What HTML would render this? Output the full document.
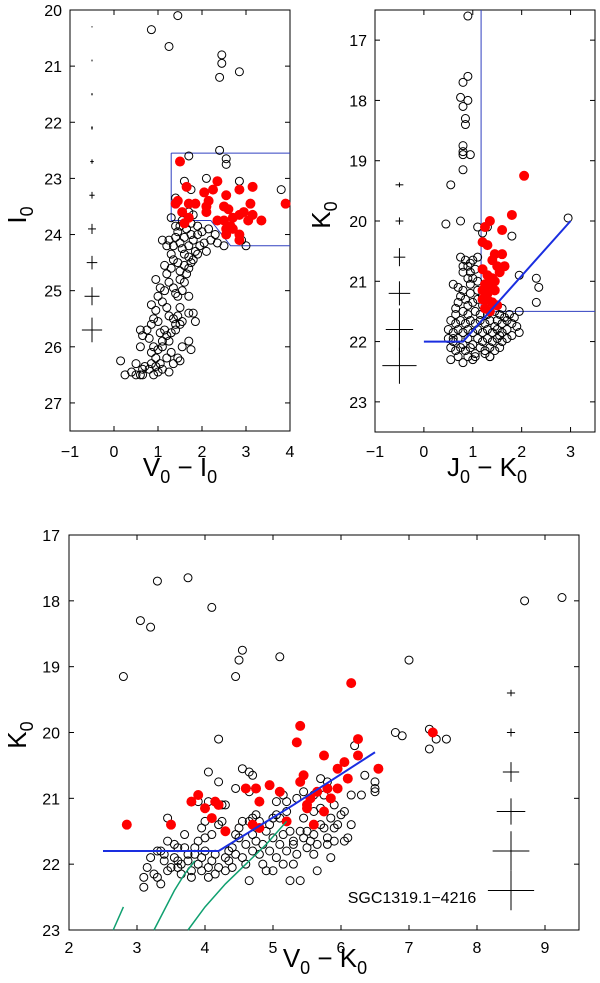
<!DOCTYPE html>
<html><head><meta charset="utf-8"><style>
html,body{margin:0;padding:0;background:#fff;}
svg{display:block;font-family:"Liberation Sans",sans-serif;}
</style></head><body>
<svg id="fig" width="600" height="983" viewBox="0 0 600 983" xmlns="http://www.w3.org/2000/svg"></svg>
<script>
// ---------- Panel 1 data (V0-I0 vs I0) ----------
const p1BlackX=[1.45,0.85,1.25,2.45,2.45,2.85,2.4,2.4,2.55,2.55,1.7,1.6,2.1,2.85,3.8,1.75,1.4,1.7,1.8,1.3,2.9,3.0,2.5,
0.15,0.25,0.4,0.5,0.5,0.6,0.65,0.7,0.65,0.8,0.85,0.9,0.95,1.0,1.05,1.1,1.25,1.2,0.6,0.85,0.9,1.0,1.1,1.3,1.45,1.5,1.35,1.7,1.75,1.55,0.6,0.75,0.85,0.9,1.0,1.05,1.15,1.2,1.3,1.4,1.25,1.5,0.65,0.8,0.85,0.95,1.0,1.1,1.2,1.25,1.35,1.45,1.5,1.55,1.7,1.8,1.85,0.95,1.05,1.15,1.25,1.35,1.4,1.45,1.55,1.6,1.7,1.15,1.2,1.3,1.35,1.45,1.5,1.6,1.7,1.75,1.8,1.2,1.25,1.35,1.4,1.45,1.5,1.55,1.6,1.65,1.7,1.75,1.8,1.85,1.9,1.95,2.0,2.05,2.1,2.2,2.3,2.35,2.15,1.4,1.55,1.75,1.9,1.6,1.65,1.3,1.5,1.1,1.7,1.9,1.5,1.4,1.1,0.95];
const p1BlackY=[20.1,20.35,20.65,20.8,20.95,21.1,21.2,22.5,22.65,22.75,22.6,23.05,23.0,23.05,23.2,23.2,23.35,23.6,23.65,23.7,24.1,24.2,24.2,
26.25,26.5,26.45,26.3,26.5,26.5,26.4,26.35,26.5,26.4,26.3,26.5,26.2,26.45,26.3,26.4,26.45,26.2,26.0,26.1,26.0,26.05,26.0,26.1,26.2,26.25,26.3,25.9,26.05,26.0,25.7,25.7,25.6,25.5,25.55,25.75,25.7,25.8,25.75,25.7,25.9,25.6,25.8,25.85,25.25,25.35,25.1,25.2,25.3,25.45,25.5,25.45,25.3,25.55,25.4,25.4,25.55,24.8,24.95,25.0,24.85,24.95,25.05,25.1,25.0,24.85,25.1,24.55,24.7,24.6,24.45,24.5,24.65,24.55,24.6,24.5,24.45,24.2,24.1,24.2,24.05,23.95,24.15,24.25,24.05,23.9,24.2,24.0,24.1,24.3,24.0,24.2,23.95,24.15,24.3,24.1,24.0,24.15,23.9,23.85,23.75,23.8,23.85,24.35,24.7,24.35,23.85,24.1,24.4,24.35,24.8,25.6,25.9,26.35];
const p1RedX=[1.5,1.65,2.35,2.25,2.05,2.15,2.55,2.85,3.15,1.4,1.45,1.7,1.85,2.1,2.5,2.6,3.1,3.9,1.55,2.1,2.35,2.5,2.7,2.85,2.95,3.05,3.15,3.35,1.6,2.55,2.7,2.55,2.85,2.85,1.7,2.65];
const p1RedY=[22.7,23.15,23.05,23.2,23.25,23.4,23.3,23.2,23.15,23.45,23.4,23.45,23.45,23.5,23.5,23.55,23.45,23.45,23.6,23.6,23.75,23.75,23.7,23.65,23.6,23.75,23.65,23.75,23.8,23.9,23.9,24.0,24.0,24.1,23.7,23.85];
const p1ErrY=[20.3,20.9,21.5,22.1,22.7,23.3,23.9,24.5,25.1,25.7];
const p1ErrDX=[0.005,0.01,0.015,0.02,0.04,0.06,0.09,0.12,0.17,0.23];
const p1ErrDY=[0.01,0.015,0.02,0.03,0.04,0.06,0.09,0.12,0.16,0.22];
const p1TicksX=[-1,0,1,2,3,4];
const p1TicksY=[20,21,22,23,24,25,26,27];

// ---------- Panel 2 data (J0-K0 vs K0) ----------
const p2BlackX=[0.9,0.9,0.8,0.75,0.9,0.8,0.85,0.85,0.8,0.8,0.8,0.95,0.8,0.55,0.45,0.75,1.1,1.3,1.8,1.2,2.95,1.1,1.95,2.3,2.35,2.3,1.95,1.9,1.95,0.6,0.7,
0.75,0.85,0.9,0.95,1.0,1.05,0.8,0.8,0.9,1.0,1.1,0.95,0.7,0.75,0.85,0.9,1.0,1.1,1.2,0.65,0.8,0.9,1.05,1.15,1.3,1.45,1.55,1.65,0.55,0.65,0.75,0.85,0.95,1.05,1.15,1.25,1.35,1.5,1.6,1.7,1.8,0.5,0.6,0.7,0.8,0.9,1.0,1.1,1.2,1.3,1.4,1.5,1.6,1.7,1.8,0.5,0.6,0.7,0.8,0.9,1.0,1.1,1.2,1.3,1.4,1.5,1.6,1.7,0.55,0.65,0.75,0.85,0.95,1.05,1.15,1.25,1.35,1.45,1.55,1.35,1.05,0.9,0.7,0.55,0.8,1.0,1.35,1.2,1.1,0.95,0.8,1.6,1.75,1.85,1.45,1.55,1.25,0.65,0.6,0.95];
const p2BlackY=[16.6,17.6,17.7,17.95,18.0,18.1,18.3,18.4,18.75,18.85,18.9,18.9,19.15,19.4,20.05,20.0,20.1,20.1,20.25,20.2,19.95,20.6,20.9,20.95,21.1,21.35,21.5,21.75,21.85,21.05,21.1,
20.6,20.65,20.75,20.7,20.65,20.8,20.75,20.85,20.95,20.95,21.0,21.05,21.35,21.25,21.3,21.4,21.35,21.3,21.4,21.45,21.5,21.55,21.5,21.55,21.55,21.5,21.55,21.6,21.65,21.7,21.65,21.7,21.65,21.7,21.65,21.7,21.65,21.65,21.7,21.65,21.7,21.8,21.85,21.8,21.85,21.8,21.85,21.8,21.85,21.8,21.85,21.8,21.85,21.8,21.9,21.95,22.0,21.95,22.05,21.95,22.05,21.95,22.0,21.95,22.0,21.95,22.0,21.95,22.1,22.15,22.1,22.15,22.1,22.2,22.1,22.15,22.1,22.15,22.1,22.25,22.25,22.25,22.25,22.3,22.35,22.3,22.25,21.25,21.15,21.2,21.15,21.45,21.55,21.6,21.75,21.9,22.2,21.55,21.95,20.85];
const p2RedX=[2.05,1.8,1.35,1.25,1.6,1.2,1.3,1.45,1.6,1.4,1.5,1.65,1.2,1.3,1.55,1.4,1.25,1.35,1.45,1.2,1.3,1.45,1.3,1.4,1.5,1.25,1.35,1.2];
const p2RedY=[19.25,19.9,20.0,20.1,20.15,20.35,20.4,20.55,20.55,20.65,20.75,20.75,20.8,20.9,20.85,20.95,21.05,21.05,21.0,21.15,21.2,21.15,21.3,21.35,21.4,21.45,21.5,21.3];
const p2ErrY=[19.4,20.0,20.6,21.2,21.8,22.4];
const p2ErrDX=[0.08,0.08,0.12,0.22,0.28,0.35];
const p2ErrDY=[0.04,0.06,0.15,0.2,0.35,0.3];
const p2TicksX=[-1,0,1,2,3];
const p2TicksY=[17,18,19,20,21,22,23];

// ---------- Panel 3 data (V0-K0 vs K0) ----------
const p3BlackX=[3.3,3.75,4.1,3.05,3.2,2.8,4.55,4.5,4.45,5.1,7.0,8.7,9.25,4.2,6.8,6.9,7.3,7.4,7.55,7.3,6.2,6.35,6.5,6.5,6.5,6.3,6.15,4.05,4.2,4.55,4.65,4.7,4.45,4.65,3.45,3.9,4.05,4.3,
3.1,3.1,3.15,3.2,3.25,3.3,3.35,3.3,3.35,3.4,3.4,3.45,3.5,3.55,3.55,3.6,3.6,3.65,3.7,3.7,3.75,3.75,3.8,3.8,3.85,3.9,3.9,3.95,3.95,4.0,4.0,4.05,4.05,4.1,4.15,4.2,4.2,4.25,4.3,4.3,4.35,4.35,4.4,4.4,4.45,4.5,4.5,4.55,4.6,4.6,4.65,4.65,4.7,4.7,4.75,4.8,4.8,4.85,4.85,4.9,4.9,4.95,4.95,5.0,5.0,5.05,5.05,5.1,5.1,5.15,5.15,5.2,5.2,5.25,5.25,5.3,5.3,5.35,5.35,5.4,5.4,5.45,5.45,5.5,5.5,5.55,5.55,5.6,5.6,5.65,5.65,5.7,5.7,5.75,5.75,5.8,5.8,5.85,5.85,5.9,5.9,5.95,6.0,6.05,6.05,6.1,6.15,5.7,5.8,5.6,5.45,4.25,4.0,3.95,4.1,3.6,3.45,3.85,4.45,4.55,5.05,4.75,5.15,5.2,5.3,4.3,4.15,3.65,4.7,5.0,5.6,5.9];
const p3BlackY=[17.7,17.65,18.1,18.3,18.4,19.15,18.75,18.9,19.15,18.85,18.9,18.0,17.95,20.1,20.0,20.05,19.95,20.1,20.1,20.25,20.2,20.65,20.75,20.85,20.9,20.95,20.95,20.6,20.75,20.55,20.6,20.65,20.85,20.9,21.3,21.05,21.05,21.1,
22.35,22.2,22.05,21.9,22.15,22.2,22.3,21.8,21.8,21.85,21.95,22.1,22.05,21.7,21.9,21.95,22.05,22.0,21.75,21.55,21.85,21.95,22.1,22.2,21.85,21.65,22.0,21.9,22.1,21.8,21.6,22.05,22.2,21.95,21.85,22.05,21.4,21.35,21.5,21.9,21.8,21.95,21.75,22.05,21.85,21.6,21.45,21.9,21.7,22.0,21.35,22.25,21.3,21.55,21.65,21.35,21.85,21.7,22.0,21.5,22.1,21.8,21.4,21.6,22.1,21.9,21.05,21.3,21.7,22.0,21.55,21.8,21.2,21.5,22.25,21.7,22.0,21.85,21.0,21.5,22.25,21.6,21.3,21.75,21.5,21.0,21.65,21.85,21.55,21.7,22.1,21.4,21.15,20.95,21.45,21.7,21.6,21.3,21.9,21.45,21.1,21.4,21.25,21.65,21.2,21.6,21.4,20.7,20.75,20.95,20.9,21.1,21.35,21.45,21.55,21.75,21.65,21.75,21.55,21.35,21.25,21.25,20.95,21.05,21.65,22.1,22.15,22.15,21.8,21.3,21.2,21.65];
const p3RedX=[6.15,5.4,5.35,6.25,5.75,6.25,6.05,5.95,6.55,5.45,6.1,5.4,4.95,4.6,4.75,5.1,5.8,5.95,5.65,5.85,3.9,3.8,4.15,4.2,4.8,5.5,5.55,5.5,4.0,5.75,4.1,5.2,4.3,4.8,5.6,4.7,2.85,3.5,7.35];
const p3RedY=[19.25,19.9,20.15,20.1,20.35,20.35,20.45,20.55,20.55,20.65,20.7,20.75,20.8,20.85,20.85,20.9,20.85,20.85,20.9,21.0,20.95,21.05,21.05,21.1,21.05,21.1,21.0,21.15,21.15,21.2,21.3,21.35,21.5,21.45,21.4,21.4,21.4,21.4,20.0];
const p3ErrY=[19.4,20.0,20.6,21.2,21.8,22.4];
const p3ErrDX=[0.06,0.06,0.12,0.21,0.27,0.34];
const p3ErrDY=[0.05,0.06,0.15,0.2,0.3,0.3];
const p3TicksX=[2,3,4,5,6,7,8,9];
const p3TicksY=[17,18,19,20,21,22,23];
const p3BlueX=[2.5,4.2,5.3,6.5];
const p3BlueY=[21.8,21.8,21.1,20.3];
const p3Green1X=[2.65,2.8], p3Green1Y=[23.0,22.65];
const p3Green2X=[3.25,3.4,3.55,3.7,3.85], p3Green2Y=[23.0,22.7,22.4,22.15,21.95];
const p3Green3X=[3.75,4.0,4.3,4.6,4.9,5.2], p3Green3Y=[23.0,22.65,22.3,22.0,21.7,21.35];

const NS="http://www.w3.org/2000/svg";
const svg=document.getElementById('fig');
function el(tag,attrs,parent){const e=document.createElementNS(NS,tag);for(const k in attrs)e.setAttribute(k,attrs[k]);(parent||svg).appendChild(e);return e;}

function makePanel(name,L,R,T,B,x0,x1,y0,y1){
  const g=el('g',{});
  
  
  const sx=v=>L+(v-x0)/(x1-x0)*(R-L);
  const sy=v=>T+(v-y0)/(y1-y0)*(B-T);
  return {g,sx,sy,L,R,T,B};
}
function frame(P,ticksX,ticksY,xlabY,ylabX){
  const f=el('rect',{x:P.L,y:P.T,width:P.R-P.L,height:P.B-P.T,fill:'none',stroke:'#000','stroke-width':1},P.g);
  
  
  ticksX.forEach(v=>{const x=P.sx(v);
    el('line',{x1:x,x2:x,y1:P.B,y2:P.B-5,stroke:'#000'},P.g);
    el('line',{x1:x,x2:x,y1:P.T,y2:P.T+5,stroke:'#000'},P.g);
    const t=el('text',{x:x,y:xlabY,'font-size':16,'text-anchor':'middle'},P.g);t.textContent=(v<0?'\u2212'+(-v):v);
    
    });
  ticksY.forEach(v=>{const y=P.sy(v);
    el('line',{x1:P.L,x2:P.L+5,y1:y,y2:y,stroke:'#000'},P.g);
    el('line',{x1:P.R,x2:P.R-5,y1:y,y2:y,stroke:'#000'},P.g);
    const t=el('text',{x:ylabX,y:y+6,'font-size':16,'text-anchor':'end'},P.g);t.textContent=v;
    
    });
}
function points(P,xs,ys,red){
  for(let i=0;i<xs.length;i++){
    const c=el('circle',{cx:P.sx(xs[i]),cy:P.sy(ys[i]),r:red?4.5:4,fill:red?'#f00':'none',stroke:red?'#f00':'#000','stroke-width':1},P.g);
    
    
  }
}
function errs(P,x,ys,dx,dy){
  for(let i=0;i<ys.length;i++){
    const g=el('g',{},P.g);
    
    
    el('line',{x1:P.sx(x-dx[i]),x2:P.sx(x+dx[i]),y1:P.sy(ys[i]),y2:P.sy(ys[i]),stroke:'#000','stroke-width':1},g);
    el('line',{x1:P.sx(x),x2:P.sx(x),y1:P.sy(ys[i]-dy[i]),y2:P.sy(ys[i]+dy[i]),stroke:'#000','stroke-width':1},g);
  }
}
function poly(P,xs,ys,color,w,name){
  const p=el('polyline',{points:xs.map((v,i)=>P.sx(v)+','+P.sy(ys[i])).join(' '),fill:'none',stroke:color,'stroke-width':w},P.g);
  
  
}
function label(x,y,main,sub,main2,sub2,rot,name){
  const t=el('text',{x:x,y:y,'font-size':26,'text-anchor':'middle',transform:rot?`rotate(-90 ${x} ${y})`:''});
  
  
  let s=el('tspan',{},t);s.textContent=main;
  s=el('tspan',{'font-size':18,dy:7},t);s.textContent=sub;
  if(main2){s=el('tspan',{dy:-7},t);s.textContent=main2;s=el('tspan',{'font-size':18,dy:7},t);s.textContent=sub2;}
}

// Panel 1
const P1=makePanel('panel-vi-cmd',70,290,10,431,-1,4,20,27.5);
frame(P1,p1TicksX,p1TicksY,457,62);
poly(P1,[1.3,4],[22.55,22.55],'#3040c0',1,'selection-box-top');
poly(P1,[1.3,1.3,2.2,2.65,4],[22.55,23.75,23.75,24.2,24.2],'#3040c0',1,'selection-box-bottom');
points(P1,p1BlackX,p1BlackY,false);
points(P1,p1RedX,p1RedY,true);
errs(P1,-0.5,p1ErrY,p1ErrDX,p1ErrDY);
label(180,476,'V','0',' \u2212 I','0',false,'x-axis-title-vi');
label(26,215,'I','0','','',true,'y-axis-title-i');

// Panel 2
const P2=makePanel('panel-jk-cmd',375,595,10,432,-1,3.5,16.5,23.5);
frame(P2,p2TicksX,p2TicksY,457,367);
poly(P2,[1.17,1.17,3.5],[16.5,21.5,21.5],'#3040c0',1,'selection-box');
points(P2,p2BlackX,p2BlackY,false);
points(P2,p2RedX,p2RedY,true);
poly(P2,[0,0.8,3.0],[22.0,22.0,20.0],'#1a2ee0',2,'rgb-boundary-line');
errs(P2,-0.5,p2ErrY,p2ErrDX,p2ErrDY);
label(487,476,'J','0',' \u2212 K','0',false,'x-axis-title-jk');
label(330,215,'K','0','','',true,'y-axis-title-k');

// Panel 3
const P3=makePanel('panel-vk-cmd',69,579,535,930,2,9.5,17,23);
frame(P3,p3TicksX,p3TicksY,953,60);
points(P3,p3BlackX,p3BlackY,false);
points(P3,p3RedX,p3RedY,true);
poly(P3,p3BlueX,p3BlueY,'#1a2ee0',2,'rgb-boundary-line');
poly(P3,p3Green1X,p3Green1Y,'#10a070',1.5,'isochrone-1');
poly(P3,p3Green2X,p3Green2Y,'#10a070',1.5,'isochrone-2');
poly(P3,p3Green3X,p3Green3Y,'#10a070',1.5,'isochrone-3');
errs(P3,8.5,p3ErrY,p3ErrDX,p3ErrDY);
label(325,967,'V','0',' \u2212 K','0',false,'x-axis-title-vk');
label(26,735,'K','0','','',true,'y-axis-title-k-bottom');
const lt=el('text',{x:412,y:903,'font-size':16,'text-anchor':'middle'});
lt.textContent='SGC1319.1\u22124216';


</script>
</body></html>
